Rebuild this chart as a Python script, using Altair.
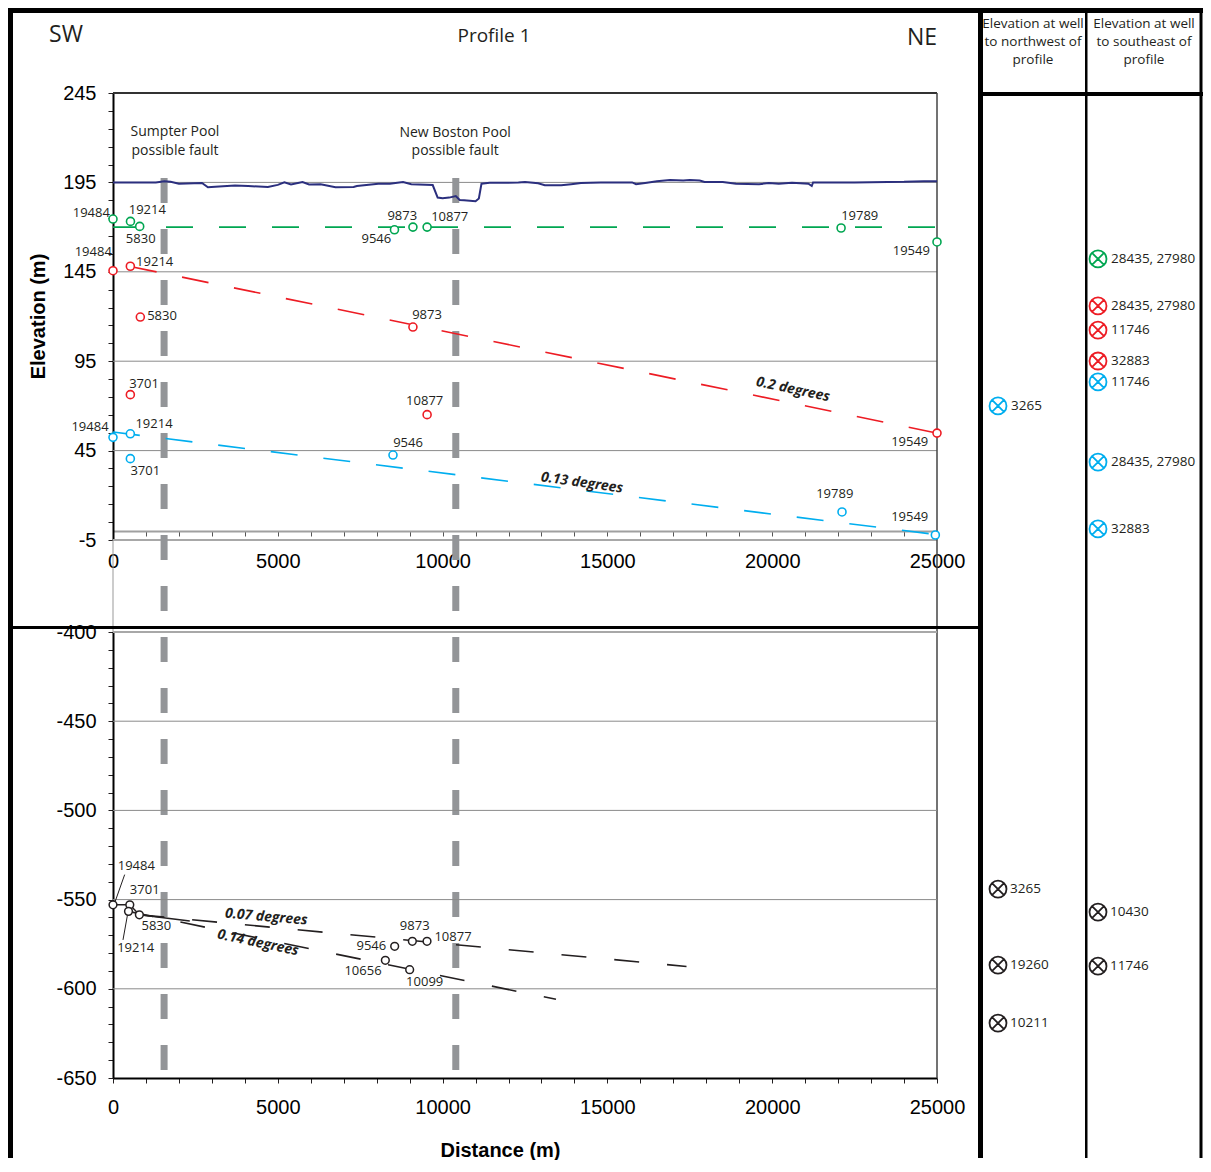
import altair as alt
import pandas as pd

TXT = "#231f20"

# ---------------- data ----------------
# ground surface profile (distance m, elevation m)
surf_x = [0, 1300, 1560, 1750, 2000, 2700, 2880, 3100, 3700, 4100, 4700, 5000, 5200, 5400, 5750,
          5950, 6300, 6750, 7300, 7400, 8050, 8400, 8800, 9050, 9700, 9850, 10000, 10200, 10400,
          10520, 10650, 11000, 11100, 11180, 11430, 12300, 12500, 12900, 13100, 13600, 13900,
          14200, 14800, 15750, 15870, 16200, 16500, 16900, 17300, 17500, 17800, 17950, 18500,
          18900, 19600, 19900, 20200, 20600, 21100, 21200, 21240, 22500, 24000, 24600, 25000]
surf_y = [195.0, 195.0, 195.6, 195.3, 194.3, 194.7, 192.3, 192.6, 193.3, 193.0, 192.4, 193.6, 195.0,
          193.8, 195.2, 193.8, 194.0, 192.3, 192.4, 193.0, 194.2, 194.2, 195.2, 194.0, 193.5, 186.5,
          186.2, 186.5, 187.4, 185.2, 185.0, 184.5, 186.0, 194.3, 194.8, 194.9, 195.2, 194.5, 193.4,
          193.4, 194.0, 194.6, 195.0, 195.0, 194.0, 194.8, 195.6, 196.4, 196.0, 196.4, 196.0, 195.2,
          195.2, 194.2, 194.0, 194.6, 194.3, 194.8, 194.3, 193.0, 195.0, 195.0, 195.3, 195.7, 195.7]

# shallow horizons (upper panel)
up_well = ["19484", "19214", "5830", "9546", "9873", "10877", "19789", "19549",
           "19484", "19214", "5830", "3701", "9873", "10877", "19549",
           "19484", "19214", "3701", "9546", "19789", "19549"]
up_series = ["h1"] * 8 + ["h2"] * 7 + ["h3"] * 6
up_x = [0, 530, 810, 8540, 9100, 9530, 22090, 25000,
        0, 526, 829, 526, 9100, 9530, 25000,
        0, 526, 526, 8495, 22118, 24950]
up_y = [174.5, 173.2, 170.4, 168.5, 170.0, 170.0, 169.5, 161.7,
        145.6, 148.1, 119.7, 76.3, 114.1, 65.1, 54.8,
        52.4, 54.4, 40.5, 42.5, 10.7, -2.2]
up_lx = [-658, 1041, 840, 7989, 8777, 10216, 22655, 24220,
         -600, 1265, 1487, 941, 9527, 9457, 24172,
         -698, 1244, 980, 8950, 21897, 24172]
up_ly = [177.9, 179.4, 163.5, 163.3, 176.4, 175.5, 176.0, 156.8,
         155.8, 150.5, 120.1, 82.4, 121.0, 72.6, 49.6,
         58.2, 59.9, 33.4, 49.3, 20.7, 7.7]

# trend lines (upper)
trend_series = ["h1", "h1", "h2", "h2", "h3", "h3"]
trend_x = [0, 25000, 520, 25000, 0, 25000]
trend_y = [170.0, 170.0, 148.0, 54.8, 55.4, -2.0]
deg_up_text = ["0.2 degrees", "0.13 degrees"]
deg_up_x = [20632, 14230]
deg_up_y = [79.1, 26.9]
deg_up_angle = [12, 8]

# deep horizon (lower panel)
low_well = ["19484", "3701", "19214", "5830", "9546", "9873", "10877", "10656", "10099"]
low_x = [0, 510, 470, 800, 8546, 9082, 9527, 8263, 9001]
low_y = [-552.9, -552.9, -556.6, -558.5, -576.2, -573.4, -573.4, -584.0, -589.3]
low_lx = [707, 962, 689, 1314, 7837, 9154, 10316, 7585, 9457]
low_ly = [-531.0, -544.5, -577.1, -564.6, -575.8, -564.6, -571.0, -590.2, -596.4]
conn_x = [0, 510, 800, 2330]
conn_y = [-552.9, -552.9, -558.5, -562.0]
lowtrend_id = ["a", "a", "b", "b"]
lowtrend_x = [800, 17400, 470, 13440]
lowtrend_y = [-558.5, -587.5, -556.6, -605.9]
leader_id = ["19484", "19484", "19214", "19214"]
leader_x = [50, 354, 455, 303]
leader_y = [-551.9, -536.0, -557.0, -572.6]
deg_low_text = ["0.07 degrees", "0.14 degrees"]
deg_low_x = [4651, 4399]
deg_low_y = [-559.8, -574.3]
deg_low_angle = [5, 12]

# faults
fault_x = [1550, 10400]
fault_text = ["Sumpter Pool", "possible fault", "New Boston Pool", "possible fault"]
fault_tx = [1881, 1881, 10380, 10380]
fault_ty = [223.2, 212.6, 222.6, 212.6]

# gridlines
grid_up = [195, 145, 95, 45]
grid_low = [-450, -500, -550, -600]

# wells off the profile (side columns)
side_up_col = [1, 1, 1, 1, 1, 0, 1, 1]
side_up_y = [152.2, 125.9, 112.4, 95.1, 83.4, 70.0, 38.6, 1.2]
side_up_label = ["28435, 27980", "28435, 27980", "11746", "32883", "11746", "3265", "28435, 27980", "32883"]
side_up_series = ["h1", "h2", "h2", "h2", "h3", "h3", "h3", "h3"]
side_low_col = [0, 0, 0, 1, 1]
side_low_y = [-544.1, -586.7, -619.2, -557.0, -587.3]
side_low_label = ["3265", "19260", "10211", "10430", "11746"]

# ---------------- scales / axes ----------------
COL = alt.Scale(domain=["h1", "h2", "h3", "deep"], range=["#00a651", "#ed1c24", "#00aeef", TXT])
SXU = alt.Scale(domain=[0, 25000], range=[105, 929], nice=False, zero=False)
SYU = alt.Scale(domain=[-5, 245], range=[532, 85], nice=False, zero=False)
SXL = alt.Scale(domain=[0, 25000], range=[105, 929], nice=False, zero=False)
SYL = alt.Scale(domain=[-650, -400], range=[1070, 624], nice=False, zero=False)

AXU = alt.Axis(orient="bottom", offset=-627, values=list(range(0, 25001, 1000)),
               labelExpr="datum.value % 5000 == 0 ? '' + datum.value : ''",
               domainColor="#a0a0a0", domainWidth=2, tickColor="#555555", tickSize=5, tickWidth=1,
               labelPadding=15, labelFont="Liberation Sans", labelFontSize=20, labelColor="black",
               labelFlush=False, labelOverlap=False, grid=False)
AYU = alt.Axis(orient="left", offset=-105, values=list(range(-5, 246, 10)),
               labelExpr="(datum.value + 5) % 50 == 0 ? '' + datum.value : ''",
               domainColor="black", domainWidth=2, tickColor=TXT, tickSize=5, tickWidth=1,
               labelPadding=12, labelFont="Liberation Sans", labelFontSize=20, labelColor="black",
               labelOverlap=False, grid=False,
               titleFont="Liberation Sans", titleFontSize=20, titleFontWeight="bold", titleColor="black",
               titleX=-75, titleY=308, titleAngle=270, titleBaseline="middle", titleAlign="center")
AXL = alt.Axis(orient="bottom", offset=-80, values=list(range(0, 25001, 1000)),
               labelExpr="datum.value % 5000 == 0 ? '' + datum.value : ''",
               domainColor="black", domainWidth=2, tickColor=TXT, tickSize=5, tickWidth=1,
               labelPadding=14, labelFont="Liberation Sans", labelFontSize=20, labelColor="black",
               labelFlush=False, labelOverlap=False, grid=False,
               titleFont="Liberation Sans", titleFontSize=20, titleFontWeight="bold", titleColor="black",
               titleX=492, titleY=72, titleBaseline="middle", titleAlign="center")
AYL = alt.Axis(orient="left", offset=-105, values=list(range(-650, -399, 10)),
               labelExpr="datum.value % 50 == 0 ? '' + datum.value : ''",
               domainColor="black", domainWidth=2, tickColor=TXT, tickSize=5, tickWidth=1,
               labelPadding=12, labelFont="Liberation Sans", labelFontSize=20, labelColor="black",
               labelOverlap=False, grid=False)


def XU(f):
    return alt.X(f, type="quantitative", scale=SXU, axis=AXU, title=None)


def YU(f):
    return alt.Y(f, type="quantitative", scale=SYU, axis=AYU, title="Elevation (m)")


def XL(f):
    return alt.X(f, type="quantitative", scale=SXL, axis=AXL, title="Distance (m)")


def YL(f):
    return alt.Y(f, type="quantitative", scale=SYL, axis=AYL, title=None)


one = pd.DataFrame({"a": [0]})


def frame_rect(x, y, x2, y2):
    # solid filled bar used for the figure's frame lines
    return alt.Chart(one).mark_rect(color="black").encode(
        x=alt.value(x), x2=alt.value(x2), y=alt.value(y), y2=alt.value(y2))


def value_text(x, y, text, size, **kw):
    return alt.Chart(one).mark_text(font="Open Sans", fontSize=size, color=TXT, **kw).encode(
        x=alt.value(x), y=alt.value(y), text=alt.value(text))


# ---------------- upper panel ----------------
df_grid_up = pd.DataFrame({"y": grid_up, "x0": 0, "x1": 25000})
df_top_up = pd.DataFrame({"y": [245], "x0": [0], "x1": [25000]})
df_bot_up = pd.DataFrame({"y": [-5], "x0": [0], "x1": [25000]})
df_surf = pd.DataFrame({"x": surf_x, "y": surf_y})
df_fault = pd.DataFrame({"x": fault_x})
df_ftext = pd.DataFrame({"x": fault_tx, "y": fault_ty, "t": fault_text})
df_trend = pd.DataFrame({"series": trend_series, "x": trend_x, "y": trend_y})
df_up = pd.DataFrame({"well": up_well, "series": up_series, "x": up_x, "y": up_y, "lx": up_lx, "ly": up_ly})
df_deg_up = pd.DataFrame({"t": deg_up_text, "x": deg_up_x, "y": deg_up_y, "angle": deg_up_angle})

up_layers = [
    alt.Chart(df_grid_up).mark_rule(color="#8a8a8a", strokeWidth=1).encode(x=XU("x0"), x2="x1", y=YU("y")),
    alt.Chart(df_top_up).mark_rule(color="#333333", strokeWidth=2).encode(x=XU("x0"), x2="x1", y=YU("y")),
    alt.Chart(df_bot_up).mark_rule(color="#a8a8a8", strokeWidth=2).encode(x=XU("x0"), x2="x1", y=YU("y")),
    alt.Chart(pd.DataFrame({"x": [25000]})).mark_rule(color="#444444", strokeWidth=1.5).encode(
        x=XU("x"), y=alt.value(85), y2=alt.value(1070)),
    alt.Chart(pd.DataFrame({"x": [0]})).mark_rule(color="#999999", strokeWidth=1).encode(
        x=XU("x"), y=alt.value(532), y2=alt.value(624)),
    alt.Chart(df_fault).mark_rule(color="#939598", strokeWidth=7, strokeDash=[25, 26]).encode(
        x=XU("x"), y=alt.value(170), y2=alt.value(1065)),
    alt.Chart(df_surf).mark_line(color="#2b2f7e", strokeWidth=2).encode(x=XU("x"), y=YU("y")),
    alt.Chart(df_trend).mark_line(strokeWidth=1.6, strokeDash=[27, 26]).encode(
        x=XU("x"), y=YU("y"), color=alt.Color("series:N", scale=COL, legend=None)),
    alt.Chart(df_up).mark_point(shape="circle", size=64, filled=True, fill="white", strokeWidth=1.6,
                                opacity=1).encode(
        x=XU("x"), y=YU("y"), stroke=alt.Stroke("series:N", scale=COL, legend=None)),
    alt.Chart(df_up).mark_text(font="Open Sans", fontSize=13, color=TXT).encode(
        x=XU("lx"), y=YU("ly"), text="well:N"),
    alt.Chart(df_deg_up).mark_text(font="Open Sans", fontSize=14, fontWeight="bold", fontStyle="italic",
                                   color=TXT).encode(
        x=XU("x"), y=YU("y"), text="t:N", angle=alt.Angle("angle:Q", scale=None)),
    alt.Chart(df_ftext).mark_text(font="Open Sans", fontSize=14, color=TXT).encode(
        x=XU("x"), y=YU("y"), text="t:N"),
    # frame and titles
    frame_rect(0, 0, 970, 5),
    frame_rect(0, 0, 5, 1150),
    frame_rect(0, 618, 970, 621),
    value_text(58, 27, "SW", 23),
    value_text(486, 28, "Profile 1", 19),
    value_text(914, 30, "NE", 23),
]
upper = alt.layer(*up_layers)

# ---------------- lower panel ----------------
df_grid_low = pd.DataFrame({"y": grid_low, "x0": 0, "x1": 25000})
df_top_low = pd.DataFrame({"y": [-400], "x0": [0], "x1": [25000]})
df_conn = pd.DataFrame({"x": conn_x, "y": conn_y})
df_lowtrend = pd.DataFrame({"id": lowtrend_id, "x": lowtrend_x, "y": lowtrend_y})
df_low = pd.DataFrame({"well": low_well, "x": low_x, "y": low_y, "lx": low_lx, "ly": low_ly})
df_leader = pd.DataFrame({"id": leader_id, "x": leader_x, "y": leader_y})
df_deg_low = pd.DataFrame({"t": deg_low_text, "x": deg_low_x, "y": deg_low_y, "angle": deg_low_angle})

low_layers = [
    alt.Chart(df_grid_low).mark_rule(color="#8a8a8a", strokeWidth=1).encode(x=XL("x0"), x2="x1", y=YL("y")),
    alt.Chart(df_top_low).mark_rule(color="#a8a8a8", strokeWidth=2).encode(x=XL("x0"), x2="x1", y=YL("y")),
    alt.Chart(df_conn).mark_line(color=TXT, strokeWidth=1.4).encode(x=XL("x"), y=YL("y")),
    alt.Chart(df_lowtrend).mark_line(color=TXT, strokeWidth=1.6, strokeDash=[25, 28]).encode(
        x=XL("x"), y=YL("y"), detail="id:N"),
    alt.Chart(df_leader).mark_line(color=TXT, strokeWidth=1).encode(x=XL("x"), y=YL("y"), detail="id:N"),
    alt.Chart(df_low).mark_point(shape="circle", size=60, filled=True, fill="white", stroke=TXT,
                                 strokeWidth=1.5, opacity=1).encode(x=XL("x"), y=YL("y")),
    alt.Chart(df_low).mark_text(font="Open Sans", fontSize=13, color=TXT).encode(
        x=XL("lx"), y=YL("ly"), text="well:N"),
    alt.Chart(df_deg_low).mark_text(font="Open Sans", fontSize=14, fontWeight="bold", fontStyle="italic",
                                    color=TXT).encode(
        x=XL("x"), y=YL("y"), text="t:N", angle=alt.Angle("angle:Q", scale=None)),
]
lower = alt.layer(*low_layers)

main = alt.layer(upper, lower).resolve_scale(x="independent", y="independent").properties(
    width=970, height=1150)

# ---------------- side columns ----------------
XSHAPE = ("M-1,0A1,1,0,1,1,1,0A1,1,0,1,1,-1,0Z"
          "M-0.7071,-0.7071L0.7071,0.7071M-0.7071,0.7071L0.7071,-0.7071")
SC = alt.Scale(domain=[0, 1], range=[20, 120], nice=False, zero=False)
SYU2 = alt.Scale(domain=[-5, 245], range=[532, 85], nice=False, zero=False)
SYL2 = alt.Scale(domain=[-650, -400], range=[1070, 624], nice=False, zero=False)

df_side_up = pd.DataFrame({"col": side_up_col, "y": side_up_y, "label": side_up_label, "series": side_up_series})
df_side_low = pd.DataFrame({"col": side_low_col, "y": side_low_y, "label": side_low_label,
                            "series": ["deep"] * len(side_low_col)})

side_up = alt.layer(
    alt.Chart(df_side_up).mark_point(shape=XSHAPE, size=289, filled=False, strokeWidth=1.8, opacity=1).encode(
        x=alt.X("col:Q", scale=SC, axis=None), y=alt.Y("y:Q", scale=SYU2, axis=None),
        stroke=alt.Stroke("series:N", scale=COL, legend=None)),
    alt.Chart(df_side_up).mark_text(align="left", dx=13, font="Open Sans", fontSize=13.5, color=TXT).encode(
        x=alt.X("col:Q", scale=SC, axis=None), y=alt.Y("y:Q", scale=SYU2, axis=None), text="label:N"),
)
side_low = alt.layer(
    alt.Chart(df_side_low).mark_point(shape=XSHAPE, size=289, filled=False, strokeWidth=1.8, opacity=1).encode(
        x=alt.X("col:Q", scale=SC, axis=None), y=alt.Y("y:Q", scale=SYL2, axis=None),
        stroke=alt.Stroke("series:N", scale=COL, legend=None)),
    alt.Chart(df_side_low).mark_text(align="left", dx=12, font="Open Sans", fontSize=13.5, color=TXT).encode(
        x=alt.X("col:Q", scale=SC, axis=None), y=alt.Y("y:Q", scale=SYL2, axis=None), text="label:N"),
)
side_decor = alt.layer(
    frame_rect(0, 0, 225, 5),
    frame_rect(0, 0, 5, 1150),
    frame_rect(0, 84, 225, 88),
    frame_rect(107, 0, 109.5, 1150),
    frame_rect(221.5, 0, 224.5, 1150),
    alt.Chart(one).mark_text(font="Open Sans", fontSize=13.5, color=TXT, lineHeight=18, baseline="top",
                             text=["Elevation at well", "to northwest of", "profile"]).encode(
        x=alt.value(55), y=alt.value(9)),
    alt.Chart(one).mark_text(font="Open Sans", fontSize=13.5, color=TXT, lineHeight=18, baseline="top",
                             text=["Elevation at well", "to southeast of", "profile"]).encode(
        x=alt.value(166), y=alt.value(9)),
)
side = alt.layer(side_up, side_low, side_decor).resolve_scale(y="independent").properties(
    width=225, height=1150)

chart = alt.hconcat(main, side, spacing=0, bounds="flush").properties(
    padding=0, background="white").configure_view(stroke=None)

chart.save("out.html", embed_options={"renderer": "svg", "actions": False})
